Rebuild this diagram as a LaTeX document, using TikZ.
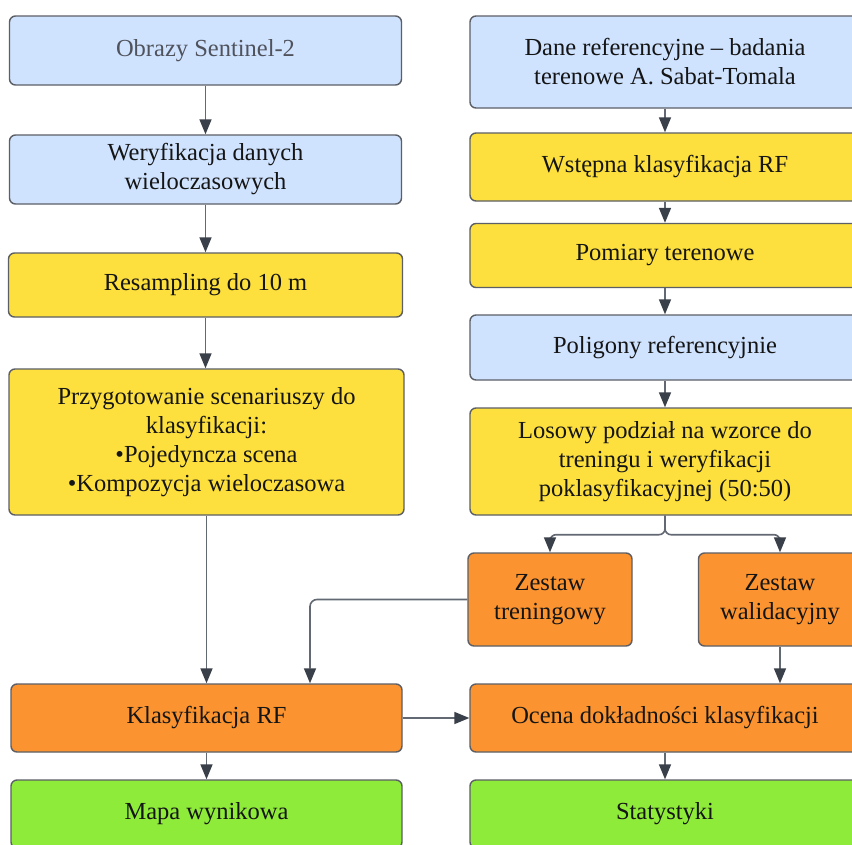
\documentclass[tikz,border=0pt]{standalone}
\usepackage{fontspec}
\setmainfont{Liberation Serif}
\usetikzlibrary{arrows.meta}
\definecolor{cblue}{HTML}{CFE3FF}
\definecolor{cyellow}{HTML}{FDE03D}
\definecolor{corange}{HTML}{FA9330}
\definecolor{cgreen}{HTML}{8FEB3A}
\definecolor{cborder}{HTML}{5C5F66}
\definecolor{cline}{HTML}{636973}
\definecolor{carrow}{HTML}{3A4049}
\definecolor{ctext}{HTML}{151515}
\definecolor{cgraytext}{HTML}{50525C}
\tikzset{
  box/.style={draw=cborder, line width=1.4pt, rounded corners=6pt, align=center,
    text=ctext, font=\fontsize{24.5}{29}\selectfont, inner sep=0pt},
  bluebox/.style={box, fill=cblue},
  yellowbox/.style={box, fill=cyellow},
  orangebox/.style={box, fill=corange},
  greenbox/.style={box, fill=cgreen},
  conn/.style={draw=cline, line width=1.6pt,
    -{Triangle[length=15pt,width=12pt,color=carrow]}},
}
\begin{document}
\begin{tikzpicture}[x=1pt,y=-1pt]
\path[use as bounding box] (0,0) rectangle (852,844);
\fill[white] (0,0) rectangle (852,844);
\clip (0,0) rectangle (852,844);
% left column
\node[bluebox, minimum width=392pt, minimum height=69pt, text=cgraytext] (obrazy) at (205.5,50.5) {Obrazy Sentinel-2};
\node[bluebox, minimum width=392pt, minimum height=69pt] (wer) at (205.5,169.5) {Weryfikacja danych\\wieloczasowych};
\node[yellowbox, minimum width=394pt, minimum height=64pt] (res) at (205.5,285) {Resampling do 10 m};
\node[yellowbox, minimum width=395pt, minimum height=146pt] (przyg) at (206.5,442) {Przygotowanie scenariuszy do\\klasyfikacji:\\•Pojedyncza scena\\•Kompozycja wieloczasowa};
\node[orangebox, minimum width=391pt, minimum height=68pt] (klas) at (206.5,718) {Klasyfikacja RF};
\node[greenbox, minimum width=391pt, minimum height=68pt] (mapa) at (206.5,814) {Mapa wynikowa};
% right column
\node[bluebox, minimum width=390pt, minimum height=92pt] (dane) at (665,62) {Dane referencyjne – badania\\terenowe A. Sabat-Tomala};
\node[yellowbox, minimum width=390pt, minimum height=68pt] (wst) at (665,167) {Wstępna klasyfikacja RF};
\node[yellowbox, minimum width=390pt, minimum height=64pt] (pom) at (665,255.5) {Pomiary terenowe};
\node[bluebox, minimum width=390pt, minimum height=65pt] (pol) at (665,347.5) {Poligony referencyjnie};
\node[yellowbox, minimum width=390pt, minimum height=107pt] (los) at (665,461.5) {Losowy podział na wzorce do\\treningu i weryfikacji\\poklasyfikacyjnej (50:50)};
\node[orangebox, minimum width=164pt, minimum height=93pt] (tren) at (550,599.5) {Zestaw\\treningowy};
\node[orangebox, minimum width=163pt, minimum height=93pt] (wal) at (780,599.5) {Zestaw\\walidacyjny};
\node[orangebox, minimum width=390pt, minimum height=68pt] (ocena) at (665,718) {Ocena dokładności klasyfikacji};
\node[greenbox, minimum width=390pt, minimum height=68pt] (stat) at (665,814) {Statystyki};
% connectors
\draw[conn] (obrazy.south) -- (wer.north);
\draw[conn] (wer.south) -- (res.north);
\draw[conn] (res.south) -- (res.south |- przyg.north);
\draw[conn] (przyg.south) -- (przyg.south |- klas.north);
\draw[conn, rounded corners=7pt] (tren.west) -| ([xshift=103.5pt]klas.north);
\draw[conn] (klas.south) -- (mapa.north);
\draw[conn] (klas.east) -- (ocena.west);
\draw[conn] (dane.south) -- (wst.north);
\draw[conn] (wst.south) -- (pom.north);
\draw[conn] (pom.south) -- (pol.north);
\draw[conn] (pol.south) -- (los.north);
\draw[conn, rounded corners=6pt] (los.south) -- ++(0,19) -| (tren.north);
\draw[conn, rounded corners=6pt] (los.south) -- ++(0,19) -| (wal.north);
\draw[conn] (wal.south) -- (wal.south |- ocena.north);
\draw[conn] (ocena.south) -- (stat.north);
\end{tikzpicture}
\end{document}
